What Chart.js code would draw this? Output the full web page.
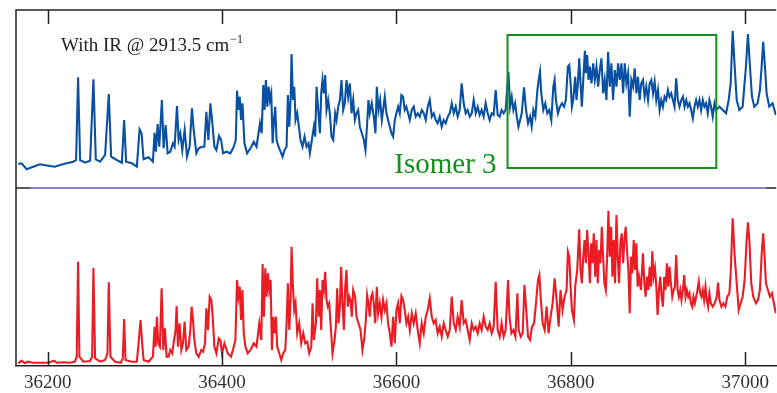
<!DOCTYPE html>
<html><head><meta charset="utf-8">
<script src="https://cdn.jsdelivr.net/npm/chart.js@4/dist/chart.umd.min.js"></script>
<style>html,body{margin:0;padding:0;background:#fff;overflow:hidden}#wrap{width:777px;height:393px}</style>
</head><body><div id="wrap"><canvas id="c" width="777" height="393"></canvas></div>
<script>
// ---- data (wavenumber in cm^-1, intensity in arbitrary units) ----
const xTickValues = [36200, 36400, 36600, 36800, 37000];
const xRange = [36163.7, 37035.5];
const panelRange = [0, 178];

const topWn = [36166.3,36170.1,36175.9,36183.5,36191.2,36200.8,36208.4,36214.2,36221.8,36229.5,36232.6,36234.9,36237.2,36242.9,36248.7,36252.5,36255.2,36260.2,36265.9,36270.1,36272.8,36279.3,36285.1,36287.7,36290.0,36296.6,36302.3,36305.4,36307.7,36310.0,36315.7,36320.7,36322.6,36324.1,36326.1,36328.0,36331.0,36333.0,36335.3,36337.6,36340.6,36343.7,36345.6,36348.3,36350.2,36352.1,36354.4,36357.1,36359.8,36362.8,36365.5,36367.4,36370.5,36373.2,36377.0,36379.7,36382.0,36384.3,36386.6,36388.9,36391.2,36393.5,36396.5,36398.9,36401.2,36405.0,36409.6,36413.4,36415.7,36417.2,36418.8,36420.3,36421.8,36423.4,36425.7,36428.7,36432.6,36436.4,36439.5,
36443.5,36445.4,36447.3,36448.8,36450.3,36451.9,36453.4,36454.9,36456.4,36458.0,36459.5,36461.0,36462.5,36464.8,36467.1,36469.4,36471.7,36474.0,36475.5,36477.1,36478.6,36479.7,36481.3,36482.8,36484.3,36486.2,36488.1,36490.0,36492.3,36494.6,36496.9,36499.2,36500.7,36503.0,36505.3,36506.8,36508.4,36510.3,36512.2,36513.7,36515.2,36516.8,36518.3,36519.8,36521.7,36523.6,36525.5,36527.5,36529.7,36531.3,36533.2,36535.1,36537.0,36538.9,36540.8,36542.7,36544.6,36546.5,36548.5,36550.4,36552.3,36554.2,36556.1,36558.0,36560.3,36562.6,36564.5,36566.4,36567.9,36569.4,36571.7,36574.0,36575.9,36577.5,36579.4,36581.3,36583.2,36584.7,36586.6,36588.5,36590.4,36592.4,36594.3,36596.2,36598.1,36600.0,36601.9,36603.8,36605.7,36607.6,36609.5,36611.4,36613.4,36615.3,36617.6,36619.8,36622.1,36624.4,36626.7,36629.0,36631.3,36633.6,36635.9,36638.2,36640.5,36642.8,36645.0,36647.3,36649.6,36651.9,36654.2,36656.5,36658.8,36661.1,36663.4,36665.7,36668.0,36670.2,36672.5,36674.8,36677.1,36679.4,36681.7,36684.0,36686.3,36688.6,36690.9,36693.2,36695.4,36697.7,36700.0,36702.3,36704.6,36706.9,36709.2,36711.5,36713.8,36716.1,36718.4,36720.6,36722.9,36725.2,
36728.4,36730.3,36732.2,36734.1,36736.1,36738.0,36739.9,36741.8,36743.7,36746.3,36748.6,36750.9,36753.2,36755.1,36757.0,36759.3,36761.6,36763.1,36764.6,36766.1,36768.4,36770.7,36773.0,36775.3,36777.6,36779.9,36781.4,36782.9,36785.2,36787.5,36789.8,36792.1,36794.3,36796.6,36798.2,36799.7,36801.2,36802.7,36805.0,36806.5,36808.1,36809.6,36811.1,36812.6,36814.2,36816.1,36817.2,36818.7,36820.3,36821.8,36823.7,36825.6,36827.5,36829.4,36831.3,36833.2,36835.1,36837.0,36838.9,36840.8,36842.7,36844.6,36846.5,36848.4,36850.4,36852.3,36854.2,36856.1,36858.0,36859.9,36861.8,36863.7,36865.6,36867.5,36869.4,36871.3,36873.2,36875.1,36877.0,36878.9,36880.8,36882.7,36884.6,36886.5,36888.5,36890.4,36892.3,36894.2,36896.1,36898.0,36899.9,36901.8,36903.7,36905.6,36907.5,36909.4,36911.3,36913.2,36915.1,36917.0,36918.9,36920.8,36922.7,36924.6,36926.6,36928.5,36930.4,36932.3,36934.2,36936.1,36938.0,36939.9,36941.8,36943.7,36945.6,36947.5,36949.4,36951.3,36953.2,36955.1,36957.0,36958.9,36960.8,36962.7,36964.7,36966.6,36970.4,36974.2,36978.0,36981.0,36983.3,36985.6,36987.9,36990.2,36993.2,36997.0,37000.8,37003.1,37005.4,37007.7,37010.4,37014.2,37016.8,37018.8,37020.6,37022.6,37024.5,37027.5,37031.3,37035.1];
const topIntensity = [24.0,24.7,18.7,21.3,23.7,22.3,21.3,23.0,24.7,26.3,28.0,110.7,28.0,25.3,27.3,108.7,28.7,26.3,33.0,94.0,31.3,28.0,25.3,68.0,26.3,24.7,21.3,58.7,54.7,28.7,30.7,26.3,55.3,36.3,64.0,41.3,88.0,39.7,63.0,34.7,36.3,44.7,41.3,82.0,48.0,54.7,38.0,58.0,31.3,41.3,79.7,58.7,34.7,39.7,41.3,41.3,76.3,48.0,84.7,64.7,41.3,38.0,52.0,48.0,34.7,36.3,34.7,41.3,48.0,97.3,78.0,91.3,68.0,84.7,44.7,34.7,39.7,46.3,41.3,
64.7,54.7,103.0,78.0,108.0,81.3,101.3,88.0,94.7,44.7,68.0,81.3,48.0,41.3,36.3,31.3,38.0,41.3,93.0,61.3,88.0,134.0,88.0,101.3,68.0,74.7,61.3,48.0,41.3,51.3,41.3,44.7,34.7,48.0,61.3,51.3,101.3,78.0,54.7,94.7,108.0,94.7,113.0,78.0,88.0,74.7,51.3,48.0,74.7,68.0,81.3,88.0,108.0,78.0,84.7,108.0,91.3,104.7,74.7,88.0,68.0,74.7,78.0,61.3,54.7,48.0,38.0,64.7,88.0,74.7,84.7,71.3,54.7,101.3,78.0,88.0,68.0,78.0,91.3,74.7,68.0,61.3,54.7,51.3,68.0,74.7,81.3,74.7,93.0,91.3,78.0,81.3,74.7,68.0,78.0,81.3,71.3,74.7,71.3,78.0,74.7,68.0,81.3,88.0,71.3,74.7,68.0,64.7,71.3,61.3,68.0,64.7,71.3,74.7,84.7,74.7,81.3,71.3,78.0,104.7,84.7,74.7,78.0,71.3,74.7,88.0,74.7,81.3,73.0,78.0,71.3,84.7,74.7,68.0,74.7,73.0,98.0,73.0,71.3,78.0,74.7,78.0,
116.3,81.3,91.3,78.0,84.7,71.3,61.3,68.0,74.7,100.7,78.0,64.7,71.3,61.3,78.0,71.3,98.0,108.0,116.3,94.7,78.0,84.7,74.7,78.0,68.0,101.3,108.0,88.0,74.7,81.3,84.7,81.3,88.0,121.3,123.0,104.7,81.3,88.0,111.3,88.0,104.7,129.7,104.7,81.3,108.0,137.3,114.7,133.0,108.0,121.3,104.7,124.7,108.0,121.3,101.3,118.0,129.7,94.7,108.0,88.0,136.3,101.3,124.7,88.0,118.0,101.3,124.7,108.0,124.7,94.7,124.7,104.7,114.7,71.3,108.0,101.3,119.7,94.7,111.3,88.0,104.7,108.0,91.3,101.3,88.0,104.7,108.0,94.7,106.3,88.0,98.0,78.0,88.0,81.3,91.3,88.0,98.0,91.3,94.7,88.0,81.3,109.7,88.0,81.3,88.0,91.3,81.3,88.0,81.3,84.7,78.0,69.7,81.3,88.0,81.3,88.0,78.0,88.0,81.3,84.7,74.7,88.0,81.3,71.3,84.7,78.0,81.3,78.0,74.7,88.0,104.7,157.3,121.3,88.0,78.0,81.3,121.3,154.0,121.3,91.3,81.3,84.7,98.0,121.3,146.3,121.3,94.7,81.3,84.7,73.0];

const botWn = [36166.3,36170.1,36173.9,36176.6,36183.5,36191.2,36200.8,36207.3,36210.3,36218.0,36225.7,36231.4,36233.3,36234.9,36236.4,36241.0,36248.7,36251.0,36252.5,36254.4,36260.2,36265.9,36268.6,36270.1,36272.0,36277.4,36283.9,36286.2,36287.7,36289.3,36296.6,36302.3,36304.6,36306.5,36308.4,36310.0,36315.7,36320.7,36322.6,36323.8,36325.3,36326.8,36328.7,36330.7,36332.6,36334.5,36336.4,36338.7,36340.6,36342.9,36344.4,36346.7,36347.9,36349.4,36351.3,36353.3,36355.2,36357.1,36359.0,36361.7,36363.6,36365.1,36366.7,36368.2,36370.5,36373.2,36376.2,36378.2,36380.5,36382.0,36383.9,36385.8,36387.7,36389.3,36391.2,36393.5,36396.2,36398.1,36400.0,36402.7,36406.5,36410.3,36413.4,36415.3,36417.2,36418.8,36420.3,36421.8,36423.4,36424.9,36426.8,36429.5,36432.6,36436.4,36439.5,
36442.7,36445.0,36446.5,36448.0,36449.6,36451.1,36452.6,36454.1,36455.7,36457.2,36458.7,36460.3,36461.8,36463.3,36465.6,36467.9,36470.2,36472.5,36474.0,36475.5,36477.1,36478.6,36479.7,36481.3,36482.8,36484.3,36486.2,36488.5,36490.8,36493.1,36495.4,36497.7,36500.0,36502.3,36503.8,36505.3,36507.6,36509.1,36510.7,36512.2,36513.7,36515.2,36516.8,36518.3,36519.8,36521.3,36522.9,36524.4,36526.7,36529.0,36530.5,36532.0,36533.6,36535.1,36536.6,36538.1,36539.7,36541.2,36542.7,36544.2,36545.8,36547.3,36548.8,36550.4,36552.6,36554.2,36556.5,36558.8,36561.0,36563.3,36564.9,36566.4,36567.9,36569.4,36571.0,36572.5,36574.0,36575.6,36577.5,36579.0,36580.9,36582.8,36584.7,36586.6,36588.5,36590.4,36592.4,36594.3,36596.2,36598.1,36600.0,36601.9,36603.8,36605.7,36607.6,36609.5,36611.4,36613.4,36615.3,36617.6,36619.8,36622.1,36624.4,36626.7,36629.0,36631.3,36633.6,36635.9,36638.2,36640.5,36642.8,36645.0,36647.3,36649.6,36651.9,36654.2,36656.5,36658.8,36661.1,36663.4,36665.7,36668.0,36670.2,36672.5,36674.8,36677.1,36679.4,36681.7,36684.0,36686.3,36688.6,36690.9,36693.2,36695.4,36697.7,36700.0,36702.3,36704.6,36706.9,36709.2,36711.5,36713.8,36716.1,36718.4,36720.6,36722.9,36725.2,
36728.0,36729.6,36731.9,36734.1,36736.4,36738.7,36740.2,36742.5,36744.8,36746.7,36748.6,36750.9,36753.2,36755.5,36757.8,36760.0,36762.3,36763.9,36765.4,36767.7,36770.0,36772.2,36774.5,36776.8,36779.1,36781.4,36783.7,36786.0,36788.2,36790.5,36792.8,36795.1,36796.6,36798.2,36799.7,36801.2,36803.5,36805.0,36807.3,36809.6,36811.1,36812.6,36814.2,36815.7,36817.2,36818.7,36820.3,36821.8,36823.3,36824.8,36826.3,36827.9,36829.4,36830.9,36832.4,36834.0,36835.5,36837.0,36838.5,36840.1,36841.6,36843.1,36844.6,36846.2,36847.7,36849.2,36850.7,36852.3,36853.8,36855.3,36856.8,36858.4,36859.9,36861.4,36862.9,36864.4,36866.0,36867.5,36869.0,36870.5,36872.1,36873.6,36875.1,36876.6,36878.2,36880.4,36882.7,36884.3,36885.8,36887.3,36888.8,36890.4,36891.9,36893.4,36894.9,36896.5,36898.0,36899.5,36901.0,36902.5,36904.1,36905.6,36907.1,36908.6,36910.2,36911.7,36913.2,36914.7,36916.3,36917.8,36919.3,36920.8,36922.4,36923.9,36925.4,36926.9,36928.5,36930.0,36931.5,36933.0,36934.6,36936.1,36937.6,36939.1,36940.6,36942.2,36943.7,36945.2,36946.7,36948.3,36949.8,36951.3,36952.8,36954.4,36955.9,36957.4,36958.9,36960.5,36962.7,36965.0,36967.3,36968.8,36970.4,36972.7,36974.9,36977.2,36979.5,36981.8,36983.3,36985.6,36987.9,36990.2,36992.5,36994.7,36997.0,36999.3,37001.6,37003.1,37004.7,37006.9,37009.2,37012.3,37014.6,37016.8,37019.1,37020.6,37022.2,37023.7,37026.0,37028.3,37030.6,37032.8,37035.1];
const botIntensity = [2.7,5.3,2.7,4.3,3.3,3.3,3.3,5.3,3.3,3.7,3.3,4.3,9.3,104.3,9.3,4.3,5.0,9.3,98.3,7.7,4.3,6.0,12.7,83.7,9.3,4.3,3.3,7.7,47.0,6.0,4.3,4.3,26.0,46.0,22.7,6.0,4.3,9.3,39.3,19.3,49.3,22.7,19.3,77.7,16.0,37.7,9.3,9.3,16.0,12.7,22.7,36.0,60.0,19.3,42.7,16.0,22.7,44.3,16.0,19.3,36.0,59.3,46.0,26.0,12.7,9.3,16.0,14.3,22.7,57.7,36.0,69.3,66.0,49.3,19.3,12.7,27.7,26.0,12.7,22.7,12.7,9.3,19.3,26.0,86.0,69.3,79.3,46.0,76.0,32.7,19.3,12.7,16.0,22.7,19.3,
42.7,26.0,102.0,49.3,97.7,69.3,92.7,76.0,86.0,16.0,49.3,32.7,49.3,19.3,12.7,6.0,12.7,16.0,42.7,82.7,36.0,66.0,119.3,79.3,56.0,62.7,32.7,42.7,22.7,32.7,22.7,24.3,12.7,19.3,62.7,26.0,42.7,87.7,49.3,76.0,36.0,86.0,76.0,94.3,66.0,59.3,62.7,42.7,12.7,26.0,39.3,77.7,42.7,59.3,99.3,62.7,36.0,79.3,96.0,59.3,69.3,66.0,49.3,76.0,69.3,49.3,42.7,36.0,16.0,29.3,46.0,71.0,62.7,49.3,69.3,72.7,62.7,42.7,79.3,52.7,62.7,49.3,66.0,56.0,62.7,42.7,32.7,19.3,49.3,22.7,56.0,62.7,42.7,70.0,66.0,56.0,42.7,49.3,36.0,52.7,42.7,52.7,36.0,22.7,42.7,32.7,49.3,56.0,67.7,49.3,42.7,46.0,32.7,39.3,29.3,42.7,36.0,29.3,36.0,69.3,42.7,36.0,49.3,39.3,66.0,42.7,46.0,36.0,26.0,42.7,36.0,39.3,32.7,42.7,36.0,49.3,39.3,36.0,42.7,32.7,39.3,84.3,36.0,29.3,42.7,29.3,36.0,
86.0,49.3,32.7,36.0,29.3,72.7,36.0,29.3,32.7,81.0,59.3,29.3,26.0,39.3,42.7,62.7,86.0,91.0,69.3,42.7,36.0,59.3,32.7,49.3,62.7,87.7,66.0,39.3,76.0,56.0,69.3,76.0,114.3,109.3,79.3,56.0,46.0,79.3,96.0,136.7,96.0,82.7,109.3,126.0,102.7,136.0,112.7,82.7,122.7,102.7,132.7,89.3,126.0,82.7,116.0,102.7,139.3,109.3,82.7,76.0,109.3,155.3,109.3,139.3,89.3,126.0,82.7,151.0,109.3,82.7,122.7,132.7,102.7,126.0,139.3,116.0,96.0,52.7,109.3,92.7,126.0,96.0,122.7,79.3,89.3,76.0,112.7,82.7,69.3,89.3,76.0,99.3,79.3,114.7,89.3,97.7,79.3,51.0,76.0,89.3,69.3,59.3,89.3,76.0,102.7,79.3,99.3,82.7,69.3,76.0,79.3,111.0,76.0,69.3,76.0,66.0,76.0,91.0,69.3,76.0,69.3,72.7,62.7,59.3,69.3,62.7,69.3,76.0,84.3,72.7,69.3,76.0,66.0,79.3,66.0,59.3,72.7,62.7,59.3,62.7,69.3,83.3,66.0,59.3,62.7,59.3,69.3,72.7,92.7,147.7,109.3,82.7,56.0,62.7,69.3,86.0,126.0,143.7,126.0,82.7,69.3,62.7,66.0,76.0,116.0,132.7,109.3,82.7,76.0,69.3,72.7,62.7,52.7];

const irLabel = "With IR @ 2913.5 cm";
const irLabelSup = "\u22121";
const isomerLabel = "Isomer 3";
const isomerWnRange = [36727.4, 36966.8];
const isomerIntensityRange = [20, 153];

// ---- chart ----
const toPts = (xs, ys) => xs.map((x, i) => ({x: x, y: ys[i]}));

const decor = {
  id: 'decor',
  beforeDatasetsDraw(chart) {
    const {ctx, chartArea: a, scales} = chart;
    const yDiv = scales.yTop.getPixelForValue(0);
    ctx.save();
    ctx.lineWidth = 1.5; ctx.strokeStyle = '#222';
    ctx.beginPath(); ctx.moveTo(a.left, yDiv); ctx.lineTo(a.right, yDiv); ctx.stroke();
    ctx.lineWidth = 2; ctx.strokeStyle = '#8680cf';
    ctx.beginPath(); ctx.moveTo(a.left + 14, yDiv); ctx.lineTo(a.right - 10, yDiv); ctx.stroke();
    ctx.restore();
  },
  afterDatasetsDraw(chart) {
    const {ctx, chartArea: a, scales} = chart;
    const xs = scales.x, yT = scales.yTop;
    ctx.save();
    // frame
    ctx.strokeStyle = '#222'; ctx.lineWidth = 1.5;
    ctx.beginPath();
    ctx.moveTo(a.left, a.bottom); ctx.lineTo(a.left, a.top); ctx.lineTo(a.right, a.top);
    ctx.stroke();
    // inward ticks
    ctx.lineWidth = 1.5;
    xs.ticks.forEach(t => {
      const px = Math.round(xs.getPixelForValue(t.value)) + 0.5;
      ctx.beginPath();
      ctx.moveTo(px, a.bottom); ctx.lineTo(px, a.bottom - 14);
      ctx.moveTo(px, a.top); ctx.lineTo(px, a.top + 14);
      ctx.stroke();
    });
    // isomer box
    const bx0 = xs.getPixelForValue(isomerWnRange[0]), bx1 = xs.getPixelForValue(isomerWnRange[1]);
    const by0 = yT.getPixelForValue(isomerIntensityRange[1]), by1 = yT.getPixelForValue(isomerIntensityRange[0]);
    ctx.strokeStyle = '#13901a'; ctx.lineWidth = 2;
    ctx.strokeRect(bx0, by0, bx1 - bx0, by1 - by0);
    ctx.fillStyle = '#13901a';
    ctx.font = '29px "Liberation Serif", "DejaVu Serif", serif';
    ctx.textAlign = 'right'; ctx.textBaseline = 'alphabetic';
    ctx.fillText(isomerLabel, bx0 - 11, by1 + 5);
    // IR label
    ctx.fillStyle = '#222';
    ctx.textAlign = 'left';
    ctx.font = '19px "Liberation Serif", "DejaVu Serif", serif';
    ctx.fillText(irLabel, a.left + 45, a.top + 41);
    const w = ctx.measureText(irLabel).width;
    ctx.font = '12px "Liberation Serif", "DejaVu Serif", serif';
    ctx.fillText(irLabelSup, a.left + 45 + w + 1, a.top + 33);
    ctx.restore();
  }
};

new Chart(document.getElementById('c'), {
  type: 'line',
  data: {
    datasets: [
      {label: 'With IR', data: toPts(topWn, topIntensity), yAxisID: 'yTop',
       borderColor: '#0a51a3', borderWidth: 2.1, pointRadius: 0, tension: 0, fill: false},
      {label: 'Without IR', data: toPts(botWn, botIntensity), yAxisID: 'yBot',
       borderColor: '#ec1c24', borderWidth: 2.1, pointRadius: 0, tension: 0, fill: false}
    ]
  },
  options: {
    responsive: false,
    devicePixelRatio: 1,
    animation: false,
    layout: {padding: {left: 16, top: 10, right: 0, bottom: 0}},
    plugins: {legend: {display: false}, tooltip: {enabled: false}},
    scales: {
      x: {
        type: 'linear', min: xRange[0], max: xRange[1],
        grid: {display: false, drawTicks: false},
        border: {display: true, color: '#222', width: 1.5},
        afterBuildTicks: s => { s.ticks = xTickValues.map(v => ({value: v})); },
        afterFit: s => { s.height = 27; },
        ticks: {
          padding: 8, color: '#333',
          font: {family: '"Liberation Serif", "DejaVu Serif", serif', size: 19, lineHeight: 1},
          callback: v => String(v), maxRotation: 0
        }
      },
      yTop: {type: 'linear', display: false, min: -panelRange[1], max: panelRange[1]},
      yBot: {type: 'linear', display: false, min: panelRange[0], max: 2 * panelRange[1]}
    }
  },
  plugins: [decor]
});
</script>
</body></html>
